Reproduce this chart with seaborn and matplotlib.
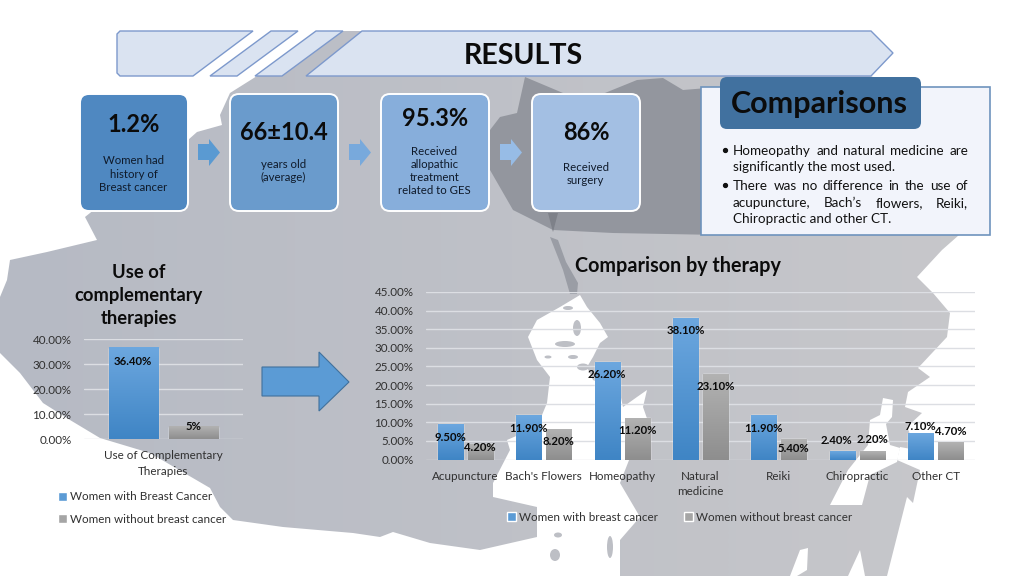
import numpy as np
import pandas as pd
import matplotlib
matplotlib.use("Agg")
import matplotlib.pyplot as plt
from matplotlib.patches import Polygon, FancyBboxPatch, Rectangle, Patch, Ellipse
from matplotlib.colors import LinearSegmentedColormap
import seaborn as sns

sns.set_theme(style="white")
plt.rcParams['font.family'] = ['Lato', 'DejaVu Sans']

# ---- data ----
series_names_a = ["Women with Breast Cancer", "Women without breast cancer"]
overall_values = [36.4, 5.0]
overall_labels = ["36.40%", "5%"]
overall_category = ["Use of Complementary\nTherapies"]
overall_ticks = [0, 10, 20, 30, 40]

therapies = ["Acupuncture", "Bach's Flowers", "Homeopathy", "Natural\nmedicine",
             "Reiki", "Chiropractic", "Other CT"]
series_names_b = ["Women with breast cancer", "Women without breast cancer"]
with_cancer = [9.5, 11.9, 26.2, 38.1, 11.9, 2.4, 7.1]
without_cancer = [4.2, 8.2, 11.2, 23.1, 5.4, 2.2, 4.7]
therapy_ticks = [0, 5, 10, 15, 20, 25, 30, 35, 40, 45]

kpi_values = ["1.2%", "66±10.4", "95.3%", "86%"]
kpi_texts = ["Women had\nhistory of\nBreast cancer", "years old\n(average)",
             "Received\nallopathic\ntreatment\nrelated to GES", "Received\nsurgery"]

W, H = 1024, 576
fig = plt.figure(figsize=(W / 100, H / 100), dpi=100, facecolor="white")
bg = fig.add_axes([0, 0, 1, 1], zorder=0)
bg.set_xlim(0, W)
bg.set_ylim(H, 0)
bg.axis("off")
TXT = "#0b0b0b"


def gradient(ax, extent, top, bottom, zorder=2.5, clip=None, horizontal=False):
    cmap = LinearSegmentedColormap.from_list("g", [top, bottom])
    arr = np.linspace(0, 1, 64)
    arr = arr.reshape(1, -1) if horizontal else arr.reshape(-1, 1)
    im = ax.imshow(arr, extent=extent, cmap=cmap, aspect="auto", origin="upper",
                   zorder=zorder, interpolation="bilinear")
    if clip is not None:
        im.set_clip_path(clip)
    return im


# ---- background map (decorative) ----
land = [(343, 31), (720, 31), (950, 100), (959, 235), (942, 250), (917, 277), (933, 293), (950, 313),
        (947, 337), (918, 368), (930, 377), (908, 392), (905, 407), (922, 413), (907, 427),
        (917, 450), (900, 447), (897, 460), (920, 470), (913, 503), (907, 497), (887, 576),
        (620, 576), (620, 540), (640, 517), (620, 483), (633, 450), (650, 427), (643, 407),
        (647, 390), (637, 397), (623, 407), (620, 393), (593, 380), (587, 367), (593, 357),
        (600, 343), (608, 337), (600, 323), (587, 307), (580, 295), (560, 307), (537, 320),
        (528, 337), (537, 360), (550, 377), (547, 403), (537, 427), (507, 440), (510, 450),
        (493, 483), (493, 497), (537, 507), (537, 537), (480, 550), (430, 543), (393, 532),
        (380, 537), (353, 533), (283, 527), (233, 520), (220, 507), (210, 488), (150, 453),
        (100, 438), (70, 420), (43, 403), (20, 373), (0, 353), (0, 297), (7, 280), (10, 260),
        (47, 252), (97, 240), (85, 217), (100, 205), (188, 140), (197, 132), (222, 125),
        (220, 115), (230, 93), (257, 76)]
land_patch = Polygon(land, closed=True, fc="none", ec="none", zorder=0.5)
bg.add_patch(land_patch)
gradient(bg, (0, W, H, 0), "#b6bac4", "#c8c8cb", zorder=1, clip=land_patch, horizontal=True)

dark = [(525, 77), (563, 93), (600, 95), (637, 80), (663, 78), (683, 90), (720, 87), (720, 235),
        (613, 233), (553, 230), (513, 210), (490, 170), (490, 130), (500, 117), (517, 113)]
bg.add_patch(Polygon(dark, closed=True, fc="#93969e", ec="none", zorder=1.1))
strip = [(550, 237), (558, 240), (566, 262), (578, 283), (577, 294), (570, 294), (563, 270)]
bg.add_patch(Polygon(strip, closed=True, fc="#9a9da5", ec="none", zorder=1.1))
bg.add_patch(Polygon([(548, 213), (558, 213), (553, 232)], closed=True, fc="#7e8189", ec="none", zorder=1.15))

for poly in ([(883, 398), (893, 400), (892, 417), (886, 424), (890, 445), (900, 448), (897, 462),
              (870, 475), (862, 505), (830, 505), (848, 470), (868, 445), (870, 420), (880, 415)],
             [(800, 550), (808, 548), (807, 570), (797, 576), (790, 576)],
             [(860, 550), (865, 576), (848, 576)]):
    bg.add_patch(Polygon(poly, closed=True, fc="white", ec="none", zorder=1.2))
for cx, cy, w, h in [(568, 308, 10, 4), (565, 344, 20, 6), (548, 357, 7, 3), (573, 357, 10, 4),
                     (583, 367, 12, 7), (577, 328, 8, 16), (558, 535, 8, 5), (555, 555, 10, 12),
                     (610, 547, 6, 22)]:
    bg.add_patch(Ellipse((cx, cy), w, h, fc="#bdbfc5", ec="none", zorder=1.3))

# ---- header ----
head_polys = [[(120, 31), (253, 31), (193, 76), (120, 76), (117, 73), (117, 34)],
              [(271, 31), (298, 31), (237, 76), (210, 76)],
              [(316, 31), (343, 31), (282, 76), (255, 76)],
              [(362, 31), (871, 31), (893, 53), (871, 76), (306, 76)]]
for p in head_polys:
    bg.add_patch(Polygon(p, closed=True, fc="#dae3f1", ec="#7d99cc", lw=1, zorder=2))
bg.text(523, 56, "RESULTS", ha="center", va="center", fontsize=20.6, fontweight="bold",
        color=TXT, zorder=5)

# ---- KPI boxes ----
box_x = [80, 230, 381, 532]
box_col = ["#4f88c1", "#6a9bcc", "#87aedb", "#a3bfe3"]
val_y = [125, 133, 119, 132]
txt_y = [174, 171, 171, 174]
for x, c, v, t, vy, ty in zip(box_x, box_col, kpi_values, kpi_texts, val_y, txt_y):
    bg.add_patch(FancyBboxPatch((x + 8, 102), 108 - 16, 117 - 16, boxstyle="round,pad=8,rounding_size=9",
                                fc=c, ec="white", lw=1.4, zorder=3))
    bg.text(x + 54, vy, v, ha="center", va="center", fontsize=17, fontweight="bold", color=TXT, zorder=5)
    bg.text(x + 53.5, ty, t, ha="center", va="center", fontsize=8.2, color="#0f1a2a", zorder=5,
            linespacing=1.25)

for x, c in zip([198, 349, 500], ["#5a9ad2", "#78a9dc", "#97bce6"]):
    bg.add_patch(Polygon([(x, 144), (x + 11, 144), (x + 11, 139), (x + 22, 152.5), (x + 11, 166),
                          (x + 11, 160), (x, 160)], closed=True, fc=c, ec="none", zorder=3))

# ---- comparisons panel ----
bg.add_patch(Rectangle((701, 87), 289, 148, fc="#f2f4fb", ec="#6e93bd", lw=1.2, zorder=3))
bg.add_patch(FancyBboxPatch((727, 84), 187, 38, boxstyle="round,pad=7,rounding_size=7",
                            fc="#41719f", ec="none", zorder=3.5))
bg.text(819, 104, "Comparisons", ha="center", va="center", fontsize=22, fontweight="bold",
        color=TXT, zorder=5)


def justified(ax, line, x0, x1, y, **kw):
    fig.canvas.draw()
    r = fig.canvas.get_renderer()
    words = line.split()
    arts = [ax.text(x0, y, w, ha="left", va="center", zorder=5, **kw) for w in words]
    ws = [a.get_window_extent(r).width for a in arts]
    gap = (x1 - x0 - sum(ws)) / (len(words) - 1)
    x = x0
    for a, w in zip(arts, ws):
        a.set_x(x)
        x += w + gap


pk = dict(fontsize=9.7, color="#111111")
bg.plot([725, 725], [150, 185], ls="none", marker="o", ms=2.8, color="#111111", zorder=5)
justified(bg, "Homeopathy and natural medicine are", 733, 968, 151, **pk)
bg.text(733, 167, "significantly the most used.", va="center", zorder=5, **pk)
justified(bg, "There was no difference in the use of", 733, 968, 186, **pk)
justified(bg, "acupuncture, Bach’s flowers, Reiki,", 733, 968, 203, **pk)
bg.text(733, 219, "Chiropractic and other CT.", va="center", zorder=5, **pk)

# ---- chart titles and big arrow ----
bg.text(139, 295.5, "Use of\ncomplementary\ntherapies", ha="center", va="center", fontsize=13.2,
        fontweight="bold", color=TXT, linespacing=1.42, zorder=5)
bg.text(678, 266.5, "Comparison by therapy", ha="center", va="center", fontsize=14.2,
        fontweight="bold", color=TXT, zorder=5)
bg.add_patch(Polygon([(262, 367), (319, 367), (319, 352), (349, 382), (319, 411), (319, 396), (262, 396)],
                     closed=True, fc="#5b9bd5", ec="#41719c", lw=0.8, zorder=3))


# ---- charts ----
def axes_px(x0, x1, y_top, y_bot):
    return fig.add_axes([x0 / W, 1 - y_bot / H, (x1 - x0) / W, (y_bot - y_top) / H],
                        facecolor="none", zorder=2)


def style(ax, ticks, ymax):
    ax.set_ylim(0, ymax)
    ax.set_yticks(ticks)
    ax.set_yticklabels([f"{t:.2f}%" for t in ticks], fontsize=8.4, color="#303030")
    ax.tick_params(axis="both", length=0)
    ax.tick_params(axis="y", pad=9)
    ax.tick_params(axis="x", pad=8, labelsize=8.4, labelcolor="#303030")
    for lab in ax.get_xticklabels():
        lab.set_linespacing(1.5)
    ax.grid(axis="y", color="#dcdee3", lw=1)
    ax.grid(axis="x", visible=False)
    ax.set_axisbelow(True)
    ax.set_xlabel("")
    ax.set_ylabel("")
    sns.despine(ax=ax, left=True, bottom=True, top=True, right=True)


def shade(ax):
    xl, yl = ax.get_xlim(), ax.get_ylim()
    for cont, (top, bot) in zip(ax.containers, [("#6ca7df", "#3f85c5"), ("#b2b2b2", "#8e8e8e")]):
        for b in cont:
            x, w, h = b.get_x(), b.get_width(), b.get_height()
            gradient(ax, (x, x + w, 0, h), top, bot)
    ax.set_xlim(xl)
    ax.set_ylim(yl)


blue, gray = "#5b9bd5", "#a5a5a5"
df_a = pd.DataFrame({"cat": overall_category * 2, "val": overall_values, "s": series_names_a})
ax1 = axes_px(84, 243, 339, 439.3)
sns.barplot(data=df_a, x="cat", y="val", hue="s", palette=[blue, gray], saturation=1, width=0.76,
            gap=0.18, legend=False, ax=ax1)
style(ax1, overall_ticks, 40)
shade(ax1)
offs_a = [(0, -13), (0, 0)]
for cont, lab, off in zip(ax1.containers, overall_labels, offs_a):
    b = cont[0]
    ax1.annotate(lab, (b.get_x() + b.get_width() / 2, b.get_height()), xytext=off,
                 textcoords="offset pixels", ha="center", va="center", fontsize=8.2,
                 fontweight="bold", color=TXT, zorder=6)

df_b = pd.DataFrame({"cat": therapies * 2, "val": with_cancer + without_cancer,
                     "s": [series_names_b[0]] * 7 + [series_names_b[1]] * 7})
ax2 = axes_px(426, 975, 292, 459.5)
sns.barplot(data=df_b, x="cat", y="val", hue="s", palette=[blue, gray], saturation=1, width=0.765,
            gap=0.166, legend=False, ax=ax2)
style(ax2, therapy_ticks, 45)
shade(ax2)
offs_b = [[(0, -13), (0, -13), (0, -13), (0, -13), (0, -13), (-6, 10), (0, 7)],
          [(0, -4), (0, -13), (0, -13), (0, -13), (0, -9), (0, 12), (0, 11)]]
for cont, vals, offs in zip(ax2.containers, [with_cancer, without_cancer], offs_b):
    for b, v, off in zip(cont, vals, offs):
        ax2.annotate(f"{v:.2f}%", (b.get_x() + b.get_width() / 2, b.get_height()), xytext=off,
                     textcoords="offset pixels", ha="center", va="center", fontsize=8.2,
                     fontweight="bold", color=TXT, zorder=6)

# ---- legends ----
fig.legend(handles=[Patch(fc=blue, label=series_names_a[0]), Patch(fc=gray, label=series_names_a[1])],
           loc="upper left", bbox_to_anchor=(58 / W, 1 - 491.5 / H), frameon=False, fontsize=8.4,
           labelcolor="#303030", handlelength=0.8, handleheight=0.8, handletextpad=0.25,
           labelspacing=0.95, borderpad=0, borderaxespad=0)
fig.legend(handles=[Patch(fc=blue, label=series_names_b[0]), Patch(fc=gray, label=series_names_b[1])],
           loc="upper left", bbox_to_anchor=(507 / W, 1 - 512 / H), frameon=False, fontsize=8.4, ncol=2,
           labelcolor="#303030", handlelength=0.8, handleheight=0.8, handletextpad=0.25,
           columnspacing=2.2, borderpad=0, borderaxespad=0)

fig.savefig("out.png", dpi=100, facecolor="white")
